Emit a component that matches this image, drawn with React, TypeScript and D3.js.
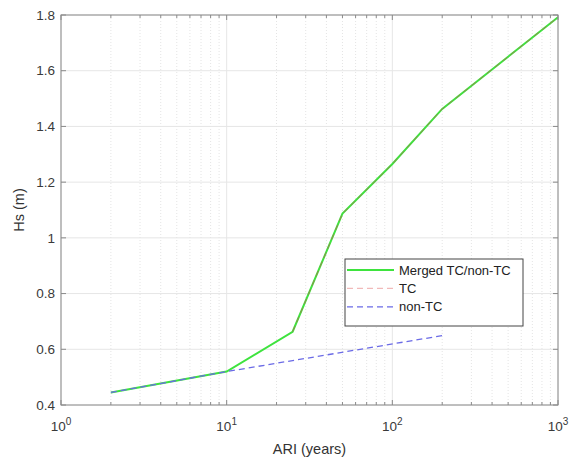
import React, { useRef, useEffect } from 'react';
import * as d3 from 'd3';

// ARI (years) and Hs (m)
const mergedAri = [2, 10, 25, 50, 100, 200, 1000];
const mergedHs = [0.445, 0.52, 0.663, 1.087, 1.265, 1.463, 1.792];
const tcAri = [25, 50, 100, 200, 1000];
const tcHs = [0.663, 1.087, 1.265, 1.463, 1.792];
const nonTcAri = [2, 10, 200];
const nonTcHs = [0.445, 0.52, 0.649];

const xTickExps = [0, 1, 2, 3];
const yTicks = [0.4, 0.6, 0.8, 1, 1.2, 1.4, 1.6, 1.8];

const legendItems = [
  { label: 'Merged TC/non-TC', color: '#3ee33e', dash: null, width: 2, opacity: 1 },
  { label: 'TC', color: '#c85050', dash: '6,4', width: 1, opacity: 0.6 },
  { label: 'non-TC', color: '#6b6be6', dash: '6,4', width: 1.3, opacity: 1 }
];

const FONT = 'Liberation Sans, Arial, sans-serif';

const App = () => {
  const ref = useRef<SVGSVGElement>(null);

  useEffect(() => {
    const W = 571, H = 462;
    const margin = { top: 15, right: 13, bottom: 57, left: 61 };
    const width = W - margin.left - margin.right;
    const height = H - margin.top - margin.bottom;

    const root = d3.select(ref.current);
    root.selectAll('*').remove();
    const svg = root.append('g').attr('transform', `translate(${margin.left},${margin.top})`);

    const x = d3.scaleLog().domain([1, 1000]).range([0, width]);
    const y = d3.scaleLinear().domain([0.4, 1.8]).range([height, 0]);

    const minor: number[] = [];
    for (let e = 0; e < 3; e++) for (let m = 2; m <= 9; m++) minor.push(m * Math.pow(10, e));

    // grid
    svg.append('g').selectAll('line.minor').data(minor).enter().append('line')
      .attr('x1', d => x(d)).attr('x2', d => x(d)).attr('y1', 0).attr('y2', height)
      .attr('stroke', '#e4e4e4').attr('stroke-dasharray', '1,2');
    svg.append('g').selectAll('line.maj').data(xTickExps).enter().append('line')
      .attr('x1', d => x(Math.pow(10, d))).attr('x2', d => x(Math.pow(10, d)))
      .attr('y1', 0).attr('y2', height).attr('stroke', '#e6e6e6');
    svg.append('g').selectAll('line').data(yTicks).enter().append('line')
      .attr('x1', 0).attr('x2', width).attr('y1', d => y(d)).attr('y2', d => y(d))
      .attr('stroke', '#e6e6e6');

    const line = d3.line<[number, number]>().x(d => x(d[0])).y(d => y(d[1]));
    const series = [
      { xs: mergedAri, ys: mergedHs, s: legendItems[0] },
      { xs: tcAri, ys: tcHs, s: legendItems[1] },
      { xs: nonTcAri, ys: nonTcHs, s: legendItems[2] }
    ];
    series.forEach(({ xs, ys, s }) => {
      svg.append('path')
        .datum(xs.map((v, i) => [v, ys[i]] as [number, number]))
        .attr('d', line)
        .attr('fill', 'none')
        .attr('stroke', s.color)
        .attr('stroke-width', s.width)
        .attr('stroke-opacity', s.opacity)
        .attr('stroke-dasharray', s.dash);
    });

    // box and ticks
    const axisColor = '#8a8a8a';
    svg.append('rect').attr('width', width).attr('height', height)
      .attr('fill', 'none').attr('stroke', axisColor);

    const tickG = svg.append('g').attr('stroke', axisColor);
    [...xTickExps.map(e => ({ v: Math.pow(10, e), len: 5 })), ...minor.map(v => ({ v, len: 3 }))]
      .forEach(t => {
        tickG.append('line').attr('x1', x(t.v)).attr('x2', x(t.v)).attr('y1', height).attr('y2', height - t.len);
        tickG.append('line').attr('x1', x(t.v)).attr('x2', x(t.v)).attr('y1', 0).attr('y2', t.len);
      });
    yTicks.forEach(v => {
      tickG.append('line').attr('x1', 0).attr('x2', 5).attr('y1', y(v)).attr('y2', y(v));
      tickG.append('line').attr('x1', width).attr('x2', width - 5).attr('y1', y(v)).attr('y2', y(v));
    });

    // tick labels
    svg.append('g').selectAll('text').data(yTicks).enter().append('text')
      .attr('x', -6).attr('y', d => y(d)).attr('dy', '0.35em')
      .attr('text-anchor', 'end').attr('font-family', FONT).attr('font-size', 13.5)
      .attr('fill', '#3a3a3a').text(d => d3.format('~g')(d));

    xTickExps.forEach(e => {
      const t = svg.append('text')
        .attr('x', x(Math.pow(10, e))).attr('y', height + 26)
        .attr('text-anchor', 'middle').attr('font-family', FONT).attr('font-size', 13.5)
        .attr('fill', '#3a3a3a');
      t.append('tspan').text('10');
      t.append('tspan').attr('dy', -6).attr('font-size', 10).text(String(e));
    });

    // axis labels
    svg.append('text').attr('x', width / 2).attr('y', height + 49)
      .attr('text-anchor', 'middle').attr('font-family', FONT).attr('font-size', 14.5)
      .attr('fill', '#333').text('ARI (years)');
    svg.append('text').attr('transform', `translate(${-37},${height / 2}) rotate(-90)`)
      .attr('text-anchor', 'middle').attr('font-family', FONT).attr('font-size', 14.5)
      .attr('fill', '#333').text('Hs (m)');

    // legend
    const lg = svg.append('g').attr('transform', `translate(${345 - margin.left},${259 - margin.top})`);
    lg.append('rect').attr('width', 178).attr('height', 67)
      .attr('fill', '#fff').attr('stroke', '#444');
    legendItems.forEach((s, i) => {
      const yy = 11 + i * 18.4;
      lg.append('line').attr('x1', 2).attr('x2', 49).attr('y1', yy).attr('y2', yy)
        .attr('stroke', i === 1 ? '#e88a8a' : s.color).attr('stroke-width', i === 1 ? 1.3 : s.width)
        .attr('stroke-opacity', s.opacity).attr('stroke-dasharray', s.dash);
      lg.append('text').attr('x', 54).attr('y', yy).attr('dy', '0.35em')
        .attr('font-family', FONT).attr('font-size', 13).attr('fill', '#222').text(s.label);
    });
  }, []);

  return <svg ref={ref} width={571} height={462} style={{ position: 'absolute', left: 0, top: 0, background: '#fff' }}></svg>;
};

export default App;
